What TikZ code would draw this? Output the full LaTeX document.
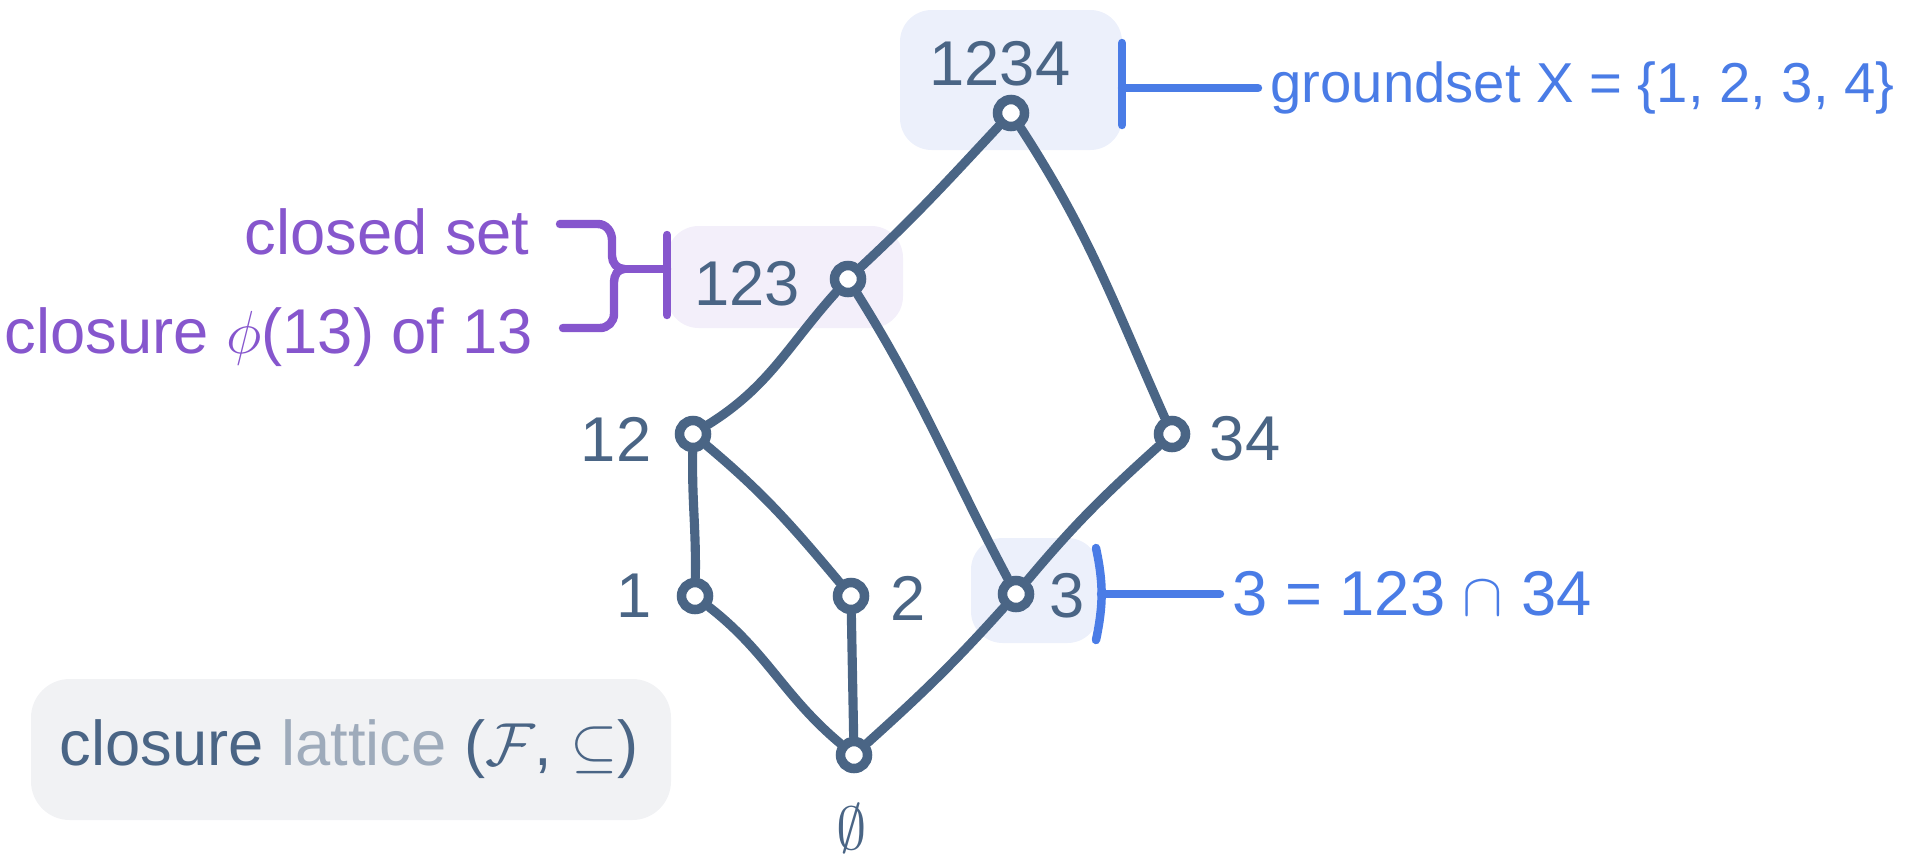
\documentclass[tikz,border=0pt]{standalone}
\usepackage{amsmath, amssymb}
\usepackage{fontspec}
\setmainfont{Liberation Sans}
\usetikzlibrary{positioning}

\definecolor{slate}{HTML}{4A6585}
\definecolor{paleslate}{HTML}{9EABBB}
\definecolor{annoblue}{HTML}{4A7CE6}
\definecolor{annopurple}{HTML}{8656CD}
\definecolor{boxblue}{HTML}{ECF0FB}
\definecolor{boxpurple}{HTML}{F3EFFA}
\definecolor{boxgray}{HTML}{F1F2F4}

\begin{document}
\begin{tikzpicture}[x=0.01cm, y=0.01cm,
    every node/.style={font=\fontsize{18}{21}\selectfont, text=slate},
    elem/.style={circle, draw=slate, fill=white, line width=2.7pt, inner sep=0pt, minimum size=0.27cm},
    hasse/.style={slate, line width=2.6pt, line cap=round},
    brace/.style={line width=2.4pt, line cap=round}]
  \useasboundingbox (0,0) rectangle (1919,-854);

  % highlight boxes
  \fill[boxblue, rounded corners=9] (900,-10) rectangle (1122,-150);
  \fill[boxpurple, rounded corners=9] (667,-226) rectangle (903,-328);
  \fill[boxblue, rounded corners=9] (971,-538) rectangle (1099,-643);
  \fill[boxgray, rounded corners=11] (31,-679) rectangle (671,-820);

  % lattice elements
  \node[elem] (n1234) at (1011,-113) {};
  \node[elem] (n123) at (848,-279) {};
  \node[elem] (n12) at (693,-434) {};
  \node[elem] (n34) at (1172,-434) {};
  \node[elem] (n1) at (695,-596) {};
  \node[elem] (n2) at (851,-596) {};
  \node[elem] (n3) at (1016,-594) {};
  \node[elem] (nempty) at (854,-755) {};

  \node (l1234) at (1000,-64) {1234};
  \node (l123) at (747,-284) {123};
  \node (l12) at (616,-439) {12};
  \node (l34) at (1245,-439) {34};
  \node (l1) at (634,-596) {1};
  \node (l2) at (908,-598) {2};
  \node (l3) at (1067,-596) {3};
  \node (lempty) at (852,-828) {$\emptyset$};

  % cover relations
  \draw[hasse] (n1234) to[out=227, in=43] (n123);
  \draw[hasse] (n1234) to[out=-57, in=114] (n34);
  \draw[hasse] (n123) to[out=228, in=32] (n12);
  \draw[hasse] (n123) to[out=-58, in=118] (n3);
  \draw[hasse] (n12) to[out=-91, in=89] (n1);
  \draw[hasse] (n12) to[out=-40, in=130] (n2);
  \draw[hasse] (n34) to[out=222, in=50] (n3);
  \draw[hasse] (n1) to[out=-38, in=140] (nempty);
  \draw[hasse] (n2) -- (nempty);
  \draw[hasse] (n3) to[out=228, in=42] (nempty);

  % groundset
  \draw[brace, annoblue] (1122,-43) -- (1122,-125);
  \coordinate (gtip) at (1122,-88);
  \node[anchor=west, text=annoblue, font=\fontsize{16}{19}\selectfont] (ground) at (1258,-88) {groundset X = \{1, 2, 3, 4\}};
  \draw[brace, annoblue] (gtip) -- (ground.west);

  % meet
  \draw[brace, annoblue] (1096,-548) to[bend left=12] (1096,-640);
  \coordinate (mtip) at (1101,-594);
  \node[anchor=west, text=annoblue] (meet) at (1220,-594) {3 = 123 $\cap$ 34};
  \draw[brace, annoblue] (mtip) -- (meet.west);

  % closed set
  \draw[brace, annopurple] (667,-235) -- (667,-315);
  \draw[brace, annopurple] (624,-269) -- (667,-269);
  \draw[brace, annopurple] (560,-224) -- (598,-224) to[out=0, in=90] (612,-240) -- (612,-256)
    to[out=-90, in=180] (624,-269) to[out=180, in=90] (614,-282) -- (614,-314)
    to[out=-90, in=0] (600,-328) -- (563,-328);
  \node[anchor=east, text=annopurple] (closed) at (542,-232) {closed set};
  \node[anchor=east, text=annopurple] (closure) at (545,-337) {closure $\phi$(13) of 13};

  \node (title) at (349,-749) {closure {\color{paleslate}lattice} ($\mathcal{F}$, $\subseteq$)};
\end{tikzpicture}
\end{document}
